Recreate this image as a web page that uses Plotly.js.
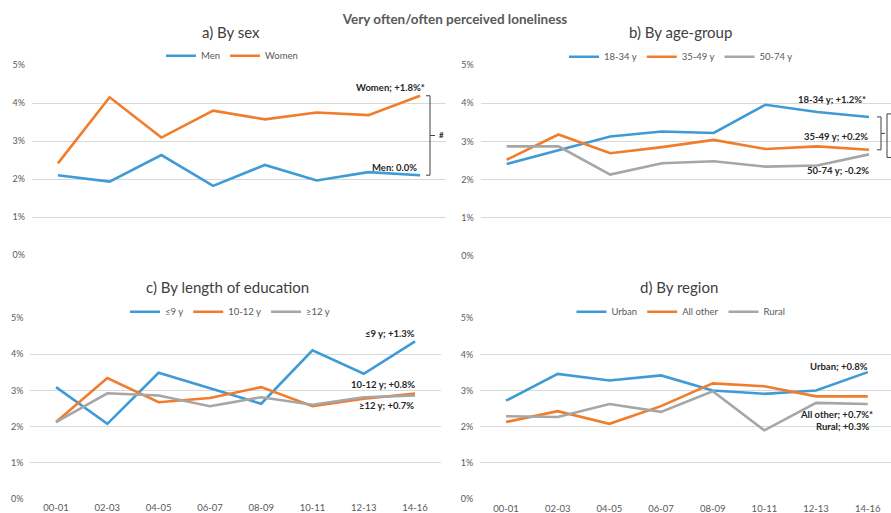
<!DOCTYPE html>
<html>
<head>
<meta charset="utf-8">
<script src="https://cdn.plot.ly/plotly-3.0.1.min.js"></script>
<style>html,body{margin:0;padding:0;background:#fff}#chart{width:891px;height:513px}</style>
</head>
<body>
<div id="chart"></div>
<script>
// ---- data (percent) ----
const periods = ['00-01','02-03','04-05','06-07','08-09','10-11','12-13','14-16'];
const men      = [2.10,1.93,2.63,1.82,2.37,1.96,2.18,2.10];
const women    = [2.41,4.15,3.09,3.80,3.57,3.75,3.68,4.19];
const age1834  = [2.41,2.78,3.13,3.26,3.22,3.96,3.77,3.64];
const age3549  = [2.52,3.18,2.69,2.85,3.04,2.80,2.87,2.78];
const age5074  = [2.87,2.87,2.13,2.43,2.48,2.34,2.37,2.66];
const edu9     = [3.09,2.07,3.49,3.05,2.63,4.11,3.46,4.36];
const edu1012  = [2.12,3.34,2.67,2.79,3.09,2.56,2.77,2.91];
const edu12    = [2.12,2.92,2.86,2.56,2.81,2.60,2.81,2.86];
const urban    = [2.72,3.46,3.28,3.42,3.00,2.91,3.00,3.51];
const allOther = [2.13,2.43,2.08,2.57,3.20,3.12,2.84,2.84];
const rural    = [2.29,2.27,2.63,2.41,2.98,1.90,2.66,2.63];
const yTicks   = [0,1,2,3,4,5];

const W = 891, H = 513;
const px = v => v / W;
const py = v => (H - v) / H;

const BLUE = '#3f9bd6', ORANGE = '#f07d2c', GRAY = '#a6a6a6';
const FONT = 'Lato, "Open Sans", sans-serif';
const last = a => a[a.length - 1];

function tr(y, name, color, xa, ya, leg) {
  return {x: periods, y: y, name: name, type: 'scatter', mode: 'lines',
          line: {color: color, width: 2.6}, xaxis: xa, yaxis: ya, legend: leg,
          hoverinfo: 'skip'};
}

const data = [
  tr(men, 'Men', BLUE, 'x', 'y', 'legend'),
  tr(women, 'Women', ORANGE, 'x', 'y', 'legend'),
  tr(age1834, '18-34 y', BLUE, 'x2', 'y2', 'legend2'),
  tr(age3549, '35-49 y', ORANGE, 'x2', 'y2', 'legend2'),
  tr(age5074, '50-74 y', GRAY, 'x2', 'y2', 'legend2'),
  tr(edu9, '≤9 y', BLUE, 'x3', 'y3', 'legend3'),
  tr(edu1012, '10-12 y', ORANGE, 'x3', 'y3', 'legend3'),
  tr(edu12, '≥12 y', GRAY, 'x3', 'y3', 'legend3'),
  tr(urban, 'Urban', BLUE, 'x4', 'y4', 'legend4'),
  tr(allOther, 'All other', ORANGE, 'x4', 'y4', 'legend4'),
  tr(rural, 'Rural', GRAY, 'x4', 'y4', 'legend4')
];

function xax(dom, range, anchor, labels) {
  return {domain: dom, anchor: anchor, type: 'category', range: range,
          showgrid: false, zeroline: false, showline: false, ticks: '',
          showticklabels: labels, tickfont: {size: 9.5, color: '#595959', family: FONT},
          ticklabelstandoff: 2, fixedrange: true};
}
function yax(dom, anchor) {
  return {domain: dom, anchor: anchor, range: [0, 5], tickvals: yTicks,
          ticktext: yTicks.map(v => v + '%'), showgrid: true, gridcolor: '#d9d9d9',
          gridwidth: 1, zeroline: false, showline: false, ticks: '',
          tickfont: {size: 9, color: '#595959', family: FONT},
          ticklabelstandoff: 6, fixedrange: true};
}
function leg(cx, cy) {
  return {orientation: 'h', x: px(cx), xanchor: 'center', y: py(cy), yanchor: 'middle',
          font: {size: 9.5, color: '#595959', family: FONT}, bgcolor: 'rgba(0,0,0,0)',
          itemwidth: 30, tracegroupgap: 0, itemclick: false};
}

function lab(text, xa, ya, yv, xshift, yshift) {
  return {text: '<b>' + text + '</b>', xref: xa, yref: ya, x: 7, y: yv,
          xanchor: 'right', yanchor: 'middle', xshift: xshift, yshift: yshift,
          showarrow: false, font: {size: 9.5, color: '#262626', family: FONT}};
}
function ptitle(text, cx, cy) {
  return {text: text, xref: 'paper', yref: 'paper', x: px(cx), y: py(cy),
          xanchor: 'center', yanchor: 'middle', showarrow: false,
          font: {size: 15, color: '#404040', family: FONT}};
}

const annotations = [
  ptitle('a) By sex', 231.5, 32),
  ptitle('b) By age-group', 680, 32),
  ptitle('c) By length of education', 227, 287),
  ptitle('d) By region', 679, 287),
  lab('Women; +1.8%*', 'x', 'y', last(women), 7, 8),
  lab('Men: 0.0%', 'x', 'y', last(men), -1, 8),
  lab('18-34 y; +1.2%*', 'x2', 'y2', last(age1834), -1, 17),
  lab('35-49 y; +0.2%', 'x2', 'y2', last(age3549), 1, 13),
  lab('50-74 y; -0.2%', 'x2', 'y2', last(age5074), 2, -16),
  lab('≤9 y; +1.3%', 'x3', 'y3', last(edu9), 2, 8),
  lab('10-12 y; +0.8%', 'x3', 'y3', last(edu1012), 2, 9),
  lab('≥12 y; +0.7%', 'x3', 'y3', last(edu12), 1, -10),
  lab('Urban; +0.8%', 'x4', 'y4', last(urban), 2, 6),
  lab('All other; +0.7%*', 'x4', 'y4', last(allOther), 7, -18),
  lab('Rural; +0.3%', 'x4', 'y4', last(rural), 4, -23),
  {text: '<b>#</b>', xref: 'paper', yref: 'y', x: px(441.5), y: (last(women) + last(men)) / 2,
   xanchor: 'center', yanchor: 'middle', showarrow: false,
   font: {size: 8, color: '#262626', family: FONT}}
];

const BR = {color: '#404040', width: 1};
function bracketRight(xv, y0, y1, ya, serifLeft, tickLen) {
  const xs = serifLeft ? xv - 4 : xv + 4;
  const ym = (y0 + y1) / 2;
  const s = [
    {type: 'line', xref: 'paper', yref: ya, x0: px(xv), x1: px(xv), y0: y0, y1: y1, line: BR},
    {type: 'line', xref: 'paper', yref: ya, x0: px(xs), x1: px(xv), y0: y0, y1: y0, line: BR},
    {type: 'line', xref: 'paper', yref: ya, x0: px(xs), x1: px(xv), y0: y1, y1: y1, line: BR}
  ];
  if (tickLen) s.push({type: 'line', xref: 'paper', yref: ya, x0: px(xv), x1: px(xv + tickLen), y0: ym, y1: ym, line: BR});
  return s;
}
const shapes = [].concat(
  bracketRight(430, last(women), last(men), 'y', true, 5),
  bracketRight(881, last(age1834), last(age3549), 'y2', true, 4),
  bracketRight(887, last(age1834) + 0.08, last(age5074) - 0.08, 'y2', false, 0)
);

const layout = {
  width: W, height: H, margin: {l: 0, r: 0, t: 0, b: 0},
  paper_bgcolor: '#fff', plot_bgcolor: '#fff',
  font: {family: FONT, color: '#595959'},
  title: {text: 'Very often/often perceived loneliness', x: px(455), xanchor: 'center',
          y: py(19), yanchor: 'middle', font: {size: 13.5, color: '#595959', family: FONT, weight: 'bold'}},
  showlegend: true,
  xaxis:  xax([px(32), px(446)], [-0.5, 7.5], 'y', false),
  yaxis:  yax([py(255), py(65)], 'x'),
  xaxis2: xax([px(480.8), 1], [-0.5, 7.425], 'y2', false),
  yaxis2: yax([py(256), py(65)], 'x2'),
  xaxis3: xax([px(30.4), px(440.7)], [-0.5, 7.5], 'y3', true),
  yaxis3: yax([py(498.5), py(318.3)], 'x3'),
  xaxis4: xax([px(480.2), 1], [-0.5, 7.45], 'y4', true),
  yaxis4: yax([py(499), py(318.3)], 'x4'),
  legend:  leg(232, 55.7),
  legend2: leg(681, 56.7),
  legend3: leg(230, 311.7),
  legend4: leg(681, 311.7),
  annotations: annotations,
  shapes: shapes
};

Plotly.newPlot('chart', data, layout, {staticPlot: true, displayModeBar: false});
</script>
</body>
</html>
